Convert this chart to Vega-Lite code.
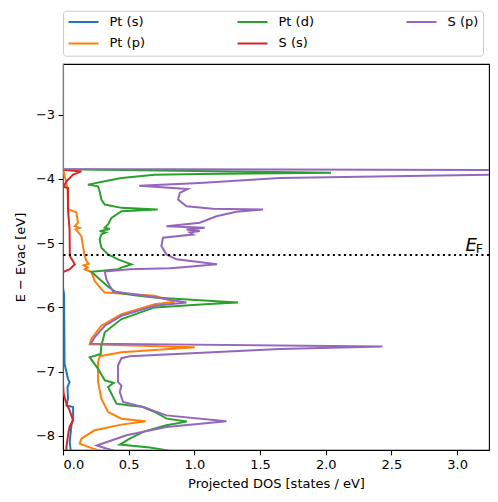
{
  "$schema": "https://vega.github.io/schema/vega-lite/v6.json",
  "width": 426,
  "height": 386,
  "autosize": {"type": "none"},
  "padding": {"left": 63, "top": 64, "right": 9, "bottom": 52},
  "config": {
    "font": "DejaVu Sans",
    "view": {"stroke": "black", "strokeWidth": 1.1},
    "axis": {
      "grid": false,
      "domainColor": "black",
      "domainWidth": 1.1,
      "tickColor": "black",
      "tickWidth": 1.1,
      "tickSize": 4.9,
      "labelFontSize": 13,
      "labelColor": "black",
      "labelPadding": 3.5,
      "titleFontSize": 13,
      "titleFontWeight": "normal",
      "titleColor": "black"
    }
  },
  "data": {
    "values": [
      {"s": "Pt (s)", "x": 0, "E": -2.21},
      {"s": "Pt (s)", "x": 0, "E": -5.7},
      {"s": "Pt (s)", "x": 0.008, "E": -5.794},
      {"s": "Pt (s)", "x": 0.01, "E": -6.336},
      {"s": "Pt (s)", "x": 0.012, "E": -6.879},
      {"s": "Pt (s)", "x": 0.038, "E": -7.112},
      {"s": "Pt (s)", "x": 0.05, "E": -7.163},
      {"s": "Pt (s)", "x": 0.034, "E": -7.24},
      {"s": "Pt (s)", "x": 0.038, "E": -7.422},
      {"s": "Pt (s)", "x": 0.026, "E": -7.526},
      {"s": "Pt (s)", "x": 0.077, "E": -7.55},
      {"s": "Pt (s)", "x": 0.077, "E": -7.732},
      {"s": "Pt (s)", "x": 0.064, "E": -7.836},
      {"s": "Pt (s)", "x": 0.051, "E": -8.093},
      {"s": "Pt (s)", "x": 0.059, "E": -8.23},

      {"s": "Pt (p)", "x": 0, "E": -2.21},
      {"s": "Pt (p)", "x": 0, "E": -3.84},
      {"s": "Pt (p)", "x": 0.02, "E": -4.01},
      {"s": "Pt (p)", "x": 0.035, "E": -4.166},
      {"s": "Pt (p)", "x": 0.038, "E": -4.398},
      {"s": "Pt (p)", "x": 0.04, "E": -4.47},
      {"s": "Pt (p)", "x": 0.102, "E": -4.518},
      {"s": "Pt (p)", "x": 0.114, "E": -4.682},
      {"s": "Pt (p)", "x": 0.089, "E": -4.735},
      {"s": "Pt (p)", "x": 0.127, "E": -4.76},
      {"s": "Pt (p)", "x": 0.097, "E": -4.786},
      {"s": "Pt (p)", "x": 0.14, "E": -4.89},
      {"s": "Pt (p)", "x": 0.152, "E": -5.045},
      {"s": "Pt (p)", "x": 0.165, "E": -5.2},
      {"s": "Pt (p)", "x": 0.178, "E": -5.278},
      {"s": "Pt (p)", "x": 0.196, "E": -5.321},
      {"s": "Pt (p)", "x": 0.158, "E": -5.344},
      {"s": "Pt (p)", "x": 0.188, "E": -5.38},
      {"s": "Pt (p)", "x": 0.165, "E": -5.406},
      {"s": "Pt (p)", "x": 0.216, "E": -5.448},
      {"s": "Pt (p)", "x": 0.241, "E": -5.588},
      {"s": "Pt (p)", "x": 0.292, "E": -5.716},
      {"s": "Pt (p)", "x": 0.318, "E": -5.767},
      {"s": "Pt (p)", "x": 0.445, "E": -5.783},
      {"s": "Pt (p)", "x": 0.698, "E": -5.82},
      {"s": "Pt (p)", "x": 0.85, "E": -5.91},
      {"s": "Pt (p)", "x": 0.698, "E": -5.949},
      {"s": "Pt (p)", "x": 0.445, "E": -6.104},
      {"s": "Pt (p)", "x": 0.292, "E": -6.285},
      {"s": "Pt (p)", "x": 0.216, "E": -6.491},
      {"s": "Pt (p)", "x": 0.203, "E": -6.574},
      {"s": "Pt (p)", "x": 1.003, "E": -6.62},
      {"s": "Pt (p)", "x": 0.445, "E": -6.698},
      {"s": "Pt (p)", "x": 0.279, "E": -6.76},
      {"s": "Pt (p)", "x": 0.267, "E": -6.853},
      {"s": "Pt (p)", "x": 0.267, "E": -7.163},
      {"s": "Pt (p)", "x": 0.292, "E": -7.422},
      {"s": "Pt (p)", "x": 0.343, "E": -7.628},
      {"s": "Pt (p)", "x": 0.445, "E": -7.732},
      {"s": "Pt (p)", "x": 0.63, "E": -7.774},
      {"s": "Pt (p)", "x": 0.445, "E": -7.825},
      {"s": "Pt (p)", "x": 0.241, "E": -7.913},
      {"s": "Pt (p)", "x": 0.14, "E": -8.042},
      {"s": "Pt (p)", "x": 0.127, "E": -8.12},
      {"s": "Pt (p)", "x": 0.203, "E": -8.18},
      {"s": "Pt (p)", "x": 0.28, "E": -8.23},

      {"s": "Pt (d)", "x": 0, "E": -2.21},
      {"s": "Pt (d)", "x": 0, "E": -3.848},
      {"s": "Pt (d)", "x": 2.04, "E": -3.902},
      {"s": "Pt (d)", "x": 1.04, "E": -3.922},
      {"s": "Pt (d)", "x": 0.698, "E": -3.933},
      {"s": "Pt (d)", "x": 0.445, "E": -3.984},
      {"s": "Pt (d)", "x": 0.318, "E": -4.037},
      {"s": "Pt (d)", "x": 0.19, "E": -4.088},
      {"s": "Pt (d)", "x": 0.267, "E": -4.115},
      {"s": "Pt (d)", "x": 0.279, "E": -4.192},
      {"s": "Pt (d)", "x": 0.292, "E": -4.321},
      {"s": "Pt (d)", "x": 0.318, "E": -4.398},
      {"s": "Pt (d)", "x": 0.445, "E": -4.45},
      {"s": "Pt (d)", "x": 0.721, "E": -4.476},
      {"s": "Pt (d)", "x": 0.445, "E": -4.502},
      {"s": "Pt (d)", "x": 0.369, "E": -4.605},
      {"s": "Pt (d)", "x": 0.343, "E": -4.709},
      {"s": "Pt (d)", "x": 0.318, "E": -4.76},
      {"s": "Pt (d)", "x": 0.356, "E": -4.778},
      {"s": "Pt (d)", "x": 0.279, "E": -4.812},
      {"s": "Pt (d)", "x": 0.325, "E": -4.833},
      {"s": "Pt (d)", "x": 0.292, "E": -4.864},
      {"s": "Pt (d)", "x": 0.279, "E": -4.941},
      {"s": "Pt (d)", "x": 0.292, "E": -5.07},
      {"s": "Pt (d)", "x": 0.343, "E": -5.174},
      {"s": "Pt (d)", "x": 0.419, "E": -5.251},
      {"s": "Pt (d)", "x": 0.521, "E": -5.329},
      {"s": "Pt (d)", "x": 0.445, "E": -5.38},
      {"s": "Pt (d)", "x": 0.419, "E": -5.406},
      {"s": "Pt (d)", "x": 0.216, "E": -5.445},
      {"s": "Pt (d)", "x": 0.279, "E": -5.561},
      {"s": "Pt (d)", "x": 0.34, "E": -5.67},
      {"s": "Pt (d)", "x": 0.407, "E": -5.767},
      {"s": "Pt (d)", "x": 0.546, "E": -5.809},
      {"s": "Pt (d)", "x": 0.698, "E": -5.845},
      {"s": "Pt (d)", "x": 1.041, "E": -5.887},
      {"s": "Pt (d)", "x": 1.333, "E": -5.922},
      {"s": "Pt (d)", "x": 1.079, "E": -5.949},
      {"s": "Pt (d)", "x": 0.698, "E": -6.0},
      {"s": "Pt (d)", "x": 0.445, "E": -6.181},
      {"s": "Pt (d)", "x": 0.318, "E": -6.388},
      {"s": "Pt (d)", "x": 0.292, "E": -6.595},
      {"s": "Pt (d)", "x": 0.287, "E": -6.724},
      {"s": "Pt (d)", "x": 0.203, "E": -6.775},
      {"s": "Pt (d)", "x": 0.267, "E": -6.957},
      {"s": "Pt (d)", "x": 0.318, "E": -7.135},
      {"s": "Pt (d)", "x": 0.386, "E": -7.174},
      {"s": "Pt (d)", "x": 0.343, "E": -7.24},
      {"s": "Pt (d)", "x": 0.407, "E": -7.499},
      {"s": "Pt (d)", "x": 0.508, "E": -7.526},
      {"s": "Pt (d)", "x": 0.607, "E": -7.546},
      {"s": "Pt (d)", "x": 0.698, "E": -7.628},
      {"s": "Pt (d)", "x": 0.79, "E": -7.732},
      {"s": "Pt (d)", "x": 0.942, "E": -7.778},
      {"s": "Pt (d)", "x": 0.787, "E": -7.836},
      {"s": "Pt (d)", "x": 0.62, "E": -7.93},
      {"s": "Pt (d)", "x": 0.508, "E": -8.042},
      {"s": "Pt (d)", "x": 0.432, "E": -8.135},
      {"s": "Pt (d)", "x": 0.66, "E": -8.18},
      {"s": "Pt (d)", "x": 0.81, "E": -8.23},

      {"s": "S (s)", "x": 0, "E": -2.21},
      {"s": "S (s)", "x": 0, "E": -3.856},
      {"s": "S (s)", "x": 0.14, "E": -3.882},
      {"s": "S (s)", "x": 0.077, "E": -3.933},
      {"s": "S (s)", "x": 0.026, "E": -4.037},
      {"s": "S (s)", "x": 0.013, "E": -4.088},
      {"s": "S (s)", "x": 0.01, "E": -4.124},
      {"s": "S (s)", "x": 0.038, "E": -4.14},
      {"s": "S (s)", "x": 0.038, "E": -4.476},
      {"s": "S (s)", "x": 0.05, "E": -4.786},
      {"s": "S (s)", "x": 0.052, "E": -5.2},
      {"s": "S (s)", "x": 0.09, "E": -5.329},
      {"s": "S (s)", "x": 0.052, "E": -5.406},
      {"s": "S (s)", "x": 0.0, "E": -5.448},
      {"s": "S (s)", "x": 0.0, "E": -7.2},
      {"s": "S (s)", "x": 0.005, "E": -7.344},
      {"s": "S (s)", "x": 0.026, "E": -7.499},
      {"s": "S (s)", "x": 0.05, "E": -7.603},
      {"s": "S (s)", "x": 0.077, "E": -7.758},
      {"s": "S (s)", "x": 0.05, "E": -7.861},
      {"s": "S (s)", "x": 0.038, "E": -7.991},
      {"s": "S (s)", "x": 0.026, "E": -8.171},
      {"s": "S (s)", "x": 0.026, "E": -8.23},

      {"s": "S (p)", "x": 0, "E": -2.21},
      {"s": "S (p)", "x": 0, "E": -3.845},
      {"s": "S (p)", "x": 6.0, "E": -3.87},
      {"s": "S (p)", "x": 4.0, "E": -3.885},
      {"s": "S (p)", "x": 3.24, "E": -3.933},
      {"s": "S (p)", "x": 1.65, "E": -3.984},
      {"s": "S (p)", "x": 1.04, "E": -4.062},
      {"s": "S (p)", "x": 0.58, "E": -4.104},
      {"s": "S (p)", "x": 0.95, "E": -4.155},
      {"s": "S (p)", "x": 0.889, "E": -4.217},
      {"s": "S (p)", "x": 0.876, "E": -4.321},
      {"s": "S (p)", "x": 0.94, "E": -4.425},
      {"s": "S (p)", "x": 1.14, "E": -4.465},
      {"s": "S (p)", "x": 1.523, "E": -4.476},
      {"s": "S (p)", "x": 1.32, "E": -4.512},
      {"s": "S (p)", "x": 1.168, "E": -4.58},
      {"s": "S (p)", "x": 1.041, "E": -4.682},
      {"s": "S (p)", "x": 0.787, "E": -4.735},
      {"s": "S (p)", "x": 1.079, "E": -4.76},
      {"s": "S (p)", "x": 0.94, "E": -4.786},
      {"s": "S (p)", "x": 1.041, "E": -4.812},
      {"s": "S (p)", "x": 0.965, "E": -4.833},
      {"s": "S (p)", "x": 0.99, "E": -4.864},
      {"s": "S (p)", "x": 0.761, "E": -4.915},
      {"s": "S (p)", "x": 0.749, "E": -5.045},
      {"s": "S (p)", "x": 0.787, "E": -5.174},
      {"s": "S (p)", "x": 0.863, "E": -5.251},
      {"s": "S (p)", "x": 1.173, "E": -5.329},
      {"s": "S (p)", "x": 0.889, "E": -5.38},
      {"s": "S (p)", "x": 0.812, "E": -5.391},
      {"s": "S (p)", "x": 0.508, "E": -5.406},
      {"s": "S (p)", "x": 0.318, "E": -5.442},
      {"s": "S (p)", "x": 0.33, "E": -5.561},
      {"s": "S (p)", "x": 0.356, "E": -5.665},
      {"s": "S (p)", "x": 0.381, "E": -5.752},
      {"s": "S (p)", "x": 0.445, "E": -5.767},
      {"s": "S (p)", "x": 0.698, "E": -5.84},
      {"s": "S (p)", "x": 0.94, "E": -5.922},
      {"s": "S (p)", "x": 0.698, "E": -5.975},
      {"s": "S (p)", "x": 0.445, "E": -6.13},
      {"s": "S (p)", "x": 0.318, "E": -6.285},
      {"s": "S (p)", "x": 0.241, "E": -6.465},
      {"s": "S (p)", "x": 0.211, "E": -6.564},
      {"s": "S (p)", "x": 2.432, "E": -6.608},
      {"s": "S (p)", "x": 1.65, "E": -6.647},
      {"s": "S (p)", "x": 0.508, "E": -6.76},
      {"s": "S (p)", "x": 0.445, "E": -6.791},
      {"s": "S (p)", "x": 0.419, "E": -6.905},
      {"s": "S (p)", "x": 0.419, "E": -7.163},
      {"s": "S (p)", "x": 0.445, "E": -7.216},
      {"s": "S (p)", "x": 0.432, "E": -7.318},
      {"s": "S (p)", "x": 0.457, "E": -7.473},
      {"s": "S (p)", "x": 0.609, "E": -7.55},
      {"s": "S (p)", "x": 0.787, "E": -7.681},
      {"s": "S (p)", "x": 1.244, "E": -7.774},
      {"s": "S (p)", "x": 0.787, "E": -7.861},
      {"s": "S (p)", "x": 0.483, "E": -7.991},
      {"s": "S (p)", "x": 0.257, "E": -8.15},
      {"s": "S (p)", "x": 0.33, "E": -8.197},
      {"s": "S (p)", "x": 0.39, "E": -8.23}
    ]
  },
  "encoding": {
    "x": {
      "field": "x", "type": "quantitative",
      "scale": {"domain": [0, 3.243], "nice": false, "zero": false},
      "axis": {"values": [0, 0.5, 1, 1.5, 2, 2.5, 3], "format": ".1f", "title": "Projected DOS [states / eV]", "titlePadding": 6}
    },
    "y": {
      "field": "E", "type": "quantitative",
      "scale": {"domain": [-8.22, -2.21], "nice": false, "zero": false},
      "axis": {"values": [-3, -4, -5, -6, -7, -8], "format": "d", "title": "E − Evac [eV]", "titlePadding": 8}
    },
    "order": {"field": "E", "type": "quantitative", "sort": "descending"},
    "color": {
      "field": "s", "type": "nominal",
      "scale": {
        "domain": ["Pt (s)", "Pt (d)", "S (p)", "Pt (p)", "S (s)"],
        "range": ["#1f77b4", "#2ca02c", "#9467bd", "#ff7f0e", "#d62728"]
      },
      "legend": {
        "title": null,
        "orient": "none",
        "legendX": 0,
        "legendY": -53.3,
        "columns": 3,
        "direction": "horizontal",
        "symbolType": "stroke",
        "symbolSize": 900,
        "symbolStrokeWidth": 2,
        "clipHeight": 13,
        "labelFontSize": 13,
        "labelColor": "black",
        "labelOffset": 10,
        "columnPadding": 91,
        "rowPadding": 7.7,
        "padding": 4.5,
        "strokeColor": "#cccccc",
        "fillColor": "white",
        "cornerRadius": 3
      }
    }
  },
  "layer": [
    {"transform": [{"filter": "datum.s === 'Pt (s)'"}], "mark": {"type": "line", "clip": true, "strokeWidth": 2}},
    {"transform": [{"filter": "datum.s === 'Pt (p)'"}], "mark": {"type": "line", "clip": true, "strokeWidth": 2}},
    {"transform": [{"filter": "datum.s === 'Pt (d)'"}], "mark": {"type": "line", "clip": true, "strokeWidth": 2}},
    {"transform": [{"filter": "datum.s === 'S (s)'"}], "mark": {"type": "line", "clip": true, "strokeWidth": 2}},
    {"transform": [{"filter": "datum.s === 'S (p)'"}], "mark": {"type": "line", "clip": true, "strokeWidth": 2}},
    {
      "data": {"values": [{"E": -5.184}]},
      "mark": {"type": "rule", "color": "black", "strokeWidth": 2.1, "strokeDash": [2.1, 3.4]},
      "encoding": {"y": {"field": "E", "type": "quantitative"}, "x": null, "order": null, "color": null}
    },
    {
      "data": {"values": [{"x": 3.064, "E": -5.122, "t": "E"}]},
      "mark": {"type": "text", "align": "left", "baseline": "alphabetic", "fontSize": 18, "fontStyle": "italic", "color": "black"},
      "encoding": {"text": {"field": "t"}, "order": null, "color": null}
    },
    {
      "data": {"values": [{"x": 3.142, "E": -5.147, "t": "F"}]},
      "mark": {"type": "text", "align": "left", "baseline": "alphabetic", "fontSize": 12.5, "color": "black"},
      "encoding": {"text": {"field": "t"}, "order": null, "color": null}
    }
  ]
}
